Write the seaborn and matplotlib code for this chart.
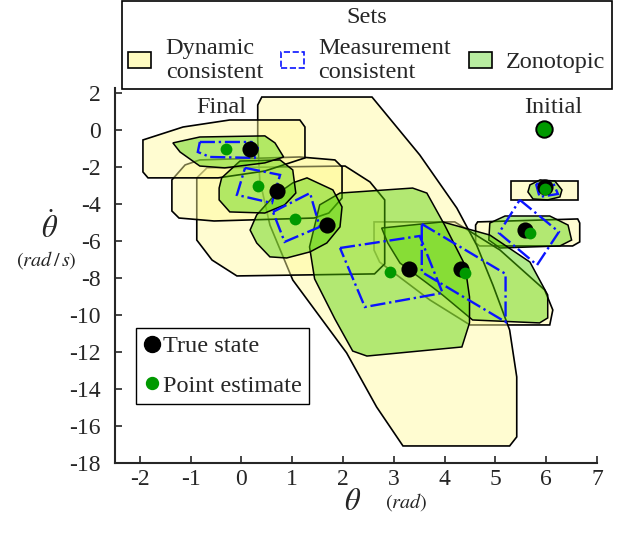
import matplotlib
matplotlib.use("Agg")
import matplotlib.pyplot as plt
import pandas as pd
import seaborn as sns
from matplotlib.patches import Patch
from matplotlib.lines import Line2D

# state estimates for each step, from k=1 (next to "Initial") to k=7 ("Final")
theta_true = [5.97, 5.58, 4.32, 3.30, 1.68, 0.70, 0.17]
omega_true = [-3.10, -5.41, -7.51, -7.51, -5.14, -3.30, -1.03]
theta_est = [5.97, 5.68, 4.40, 2.92, 1.05, 0.32, -0.31]
omega_est = [-3.20, -5.57, -7.73, -7.68, -4.81, -3.03, -1.03]
theta_init = [5.95]
omega_init = [0.05]

# dynamic consistent sets (yellow), vertices as (theta, theta_dot)
dyn_sets = [
    [(5.30, -2.76), (6.62, -2.76), (6.62, -3.78), (5.30, -3.78)],
    [(4.65, -4.97), (6.62, -4.81), (6.66, -5.03), (6.66, -6.05), (6.52, -6.27),
     (4.69, -6.27), (4.61, -6.11), (4.61, -5.14)],
    [(2.61, -4.97), (4.20, -4.97), (5.09, -6.49), (5.97, -8.65), (6.13, -9.73),
     (6.07, -10.54), (4.50, -10.54), (3.71, -9.19), (2.72, -7.14), (2.61, -6.49)],
    [(0.40, 1.78), (2.57, 1.78), (3.51, -1.35), (4.24, -4.22), (4.63, -6.22),
     (4.95, -8.38), (5.28, -10.81), (5.42, -13.35), (5.42, -16.59), (5.28, -17.08),
     (3.18, -17.08), (2.66, -14.97), (2.07, -12.05), (1.01, -8.11), (0.56, -5.14),
     (0.36, -2.70), (0.32, -0.54), (0.32, 1.35)],
    [(-0.88, -2.59), (-0.68, -2.05), (2.04, -1.95), (2.53, -2.81), (2.82, -3.78),
     (2.82, -7.24), (2.62, -7.78), (-0.09, -7.89), (-0.58, -7.03), (-0.88, -5.95)],
    [(-1.37, -2.70), (-1.11, -1.89), (-0.82, -1.62), (1.15, -1.46), (1.84, -1.62),
     (1.98, -2.00), (1.98, -3.68), (1.72, -4.49), (1.43, -4.76), (-0.54, -4.92),
     (-1.23, -4.76), (-1.37, -4.38)],
    [(-1.94, -0.54), (-1.15, 0.16), (-0.23, 0.54), (1.15, 0.54), (1.25, 0.16),
     (1.25, -1.51), (0.46, -2.22), (-0.46, -2.59), (-1.84, -2.59), (-1.94, -2.27)],
]

# measurement consistent sets (blue dashed)
meas_sets = [
    [(5.80, -2.92), (6.13, -2.81), (6.23, -3.46), (5.87, -3.62)],
    [(5.48, -3.78), (6.25, -5.51), (5.82, -7.30), (5.07, -5.57)],
    [(3.55, -5.08), (5.20, -7.78), (5.20, -10.38), (3.55, -7.68)],
    [(1.94, -6.38), (3.51, -5.73), (3.96, -8.81), (2.43, -9.57)],
    [(0.62, -4.43), (1.35, -3.41), (1.54, -5.24), (0.85, -6.05)],
    [(0.07, -2.05), (0.76, -2.43), (0.60, -3.95), (-0.09, -3.51)],
    [(-0.82, -0.65), (0.20, -0.65), (0.32, -0.97), (0.26, -1.51), (-0.62, -1.46),
     (-0.86, -1.19)],
]

# zonotopic estimates (green)
zono_sets = [
    [(5.68, -2.97), (5.88, -2.70), (6.17, -2.76), (6.31, -3.24), (6.27, -3.62),
     (6.03, -3.78), (5.74, -3.73), (5.64, -3.35)],
    [(4.89, -5.03), (5.19, -4.65), (6.07, -4.65), (6.43, -5.14), (6.50, -5.95),
     (6.27, -6.27), (5.09, -6.38), (4.87, -5.95)],
    [(2.76, -5.30), (3.96, -4.97), (4.89, -5.68), (5.68, -7.14), (6.03, -8.92),
     (6.03, -10.16), (5.87, -10.43), (4.55, -10.27), (3.96, -8.92), (3.65, -8.27),
     (3.12, -7.19), (2.88, -6.11)],
    [(1.94, -3.41), (3.37, -3.14), (3.65, -3.41), (4.00, -5.14), (4.40, -7.30),
     (4.49, -9.03), (4.49, -10.43), (4.34, -11.73), (2.47, -12.22), (2.19, -11.95),
     (1.84, -10.22), (1.44, -8.05), (1.34, -6.32), (1.54, -4.05)],
    [(1.01, -2.86), (1.29, -2.59), (1.80, -3.24), (1.98, -4.16), (1.94, -5.24),
     (1.68, -6.11), (1.35, -6.59), (0.89, -6.92), (0.56, -6.86), (0.30, -6.11),
     (0.17, -5.41), (0.30, -4.59), (0.62, -3.62)],
    [(-0.39, -2.59), (-0.03, -1.68), (0.76, -1.62), (1.01, -2.16), (1.07, -3.41),
     (0.85, -4.05), (0.46, -4.49), (-0.23, -4.43), (-0.44, -3.78), (-0.44, -3.14)],
    [(-1.35, -0.70), (-0.82, -0.38), (0.46, -0.32), (0.66, -0.70), (0.83, -1.46),
     (0.46, -1.78), (-0.33, -2.05), (-0.82, -1.95), (-1.21, -1.19)],
]

YELLOW = (1.0, 0.98, 0.60, 0.45)
GREEN = (0.33, 0.82, 0.0, 0.45)
BLUE = "#0a14ff"

sns.set_theme(style="ticks")
plt.rcParams["font.family"] = ["Liberation Serif", "DejaVu Serif"]
plt.rcParams["mathtext.fontset"] = "stix"
plt.rcParams["axes.unicode_minus"] = False

fig = plt.figure(figsize=(6.4, 5.45), dpi=100)
ax = fig.add_axes([0.1797, 0.1505, 0.7531, 0.6881])

for poly in dyn_sets:
    xs, ys = zip(*poly)
    ax.fill(xs, ys, facecolor=YELLOW, edgecolor="black", lw=1.2, zorder=1)
for poly in zono_sets:
    xs, ys = zip(*poly)
    ax.fill(xs, ys, facecolor=GREEN, edgecolor="black", lw=1.1, zorder=2)
for poly in meas_sets:
    xs, ys = zip(*poly)
    ax.fill(xs, ys, facecolor="none", edgecolor=BLUE, lw=1.7, ls="-.", zorder=3)

true_df = pd.DataFrame({"theta": theta_true, "omega": omega_true})
est_df = pd.DataFrame({"theta": theta_est, "omega": omega_est})
init_df = pd.DataFrame({"theta": theta_init, "omega": omega_init})
sns.scatterplot(data=true_df, x="theta", y="omega", color="black", s=135,
                linewidth=0, ax=ax, zorder=4)
sns.scatterplot(data=est_df, x="theta", y="omega", color="#009900", s=72,
                linewidth=0, ax=ax, zorder=5)
sns.scatterplot(data=init_df, x="theta", y="omega", color="#009900", s=140,
                edgecolor="black", linewidth=1.4, ax=ax, zorder=5)

ax.text(-0.39, 1.19, "Final", fontsize=17.5, ha="center", va="center")
ax.text(6.13, 1.19, "Initial", fontsize=17.5, ha="center", va="center")

ax.set_xlim(-2.49, 7.0)
ax.set_ylim(-18, 2.27)
ax.set_xticks(range(-2, 8))
ax.set_yticks(range(-18, 3, 2))
ax.tick_params(direction="in", length=5, width=1.2, labelsize=17)
ax.tick_params(axis="y", pad=10)
ax.tick_params(axis="x", pad=4)
sns.despine(ax=ax)
for side in ["left", "bottom"]:
    ax.spines[side].set_linewidth(1.5)
ax.set_xlabel("")
ax.set_ylabel("")

fig.text(353 / 640, 1 - 502 / 545, r"$\theta$", fontsize=22, ha="center", va="center")
fig.text(406 / 640, 1 - 502 / 545, r"$(rad)$", fontsize=14.5, ha="center", va="center")
fig.text(50 / 640, 1 - 229 / 545, r"$\dot{\theta}$", fontsize=22, ha="center", va="center")
fig.text(46 / 640, 1 - 260 / 545, r"$(rad\,/\,s)$", fontsize=14.5, ha="center", va="center")

pt_handles = [
    Line2D([], [], ls="none", marker="o", markersize=11.5, color="black"),
    Line2D([], [], ls="none", marker="o", markersize=8.6, color="#009900"),
]
leg_pts = ax.legend(pt_handles, ["True state", "Point estimate"], loc="lower left",
                    bbox_to_anchor=(0.0436, 0.157), borderaxespad=0, fontsize=17.5,
                    frameon=True, fancybox=False, edgecolor="black", framealpha=1,
                    handlelength=0.7, handletextpad=0.1, labelspacing=0.72,
                    borderpad=0.3)
leg_pts.get_frame().set_linewidth(1.0)

set_handles = [
    Patch(facecolor="#fffbc0", edgecolor="black", lw=1.2),
    Patch(facecolor="none", edgecolor=BLUE, lw=1.2, ls="--"),
    Patch(facecolor="#b8eca0", edgecolor="black", lw=1.2),
]
leg_sets = fig.legend(set_handles, ["Dynamic\nconsistent", "Measurement\nconsistent", "Zonotopic"],
                      loc="upper left", bbox_to_anchor=(122 / 640, 0.998),
                      ncol=3, title="Sets", fontsize=17.5, title_fontsize=17.5,
                      frameon=True, fancybox=False, edgecolor="black", framealpha=1,
                      handlelength=0.95, handleheight=0.6, handletextpad=0.6,
                      columnspacing=0.72, borderaxespad=0, borderpad=0.25,
                      labelspacing=0.4)
leg_sets.get_frame().set_linewidth(1.2)
fig.add_artist(Line2D([0.198, 0.93], [0.9505, 0.9505], transform=fig.transFigure,
                      color="black", lw=1.2))

fig.savefig("out.png", dpi=100)
